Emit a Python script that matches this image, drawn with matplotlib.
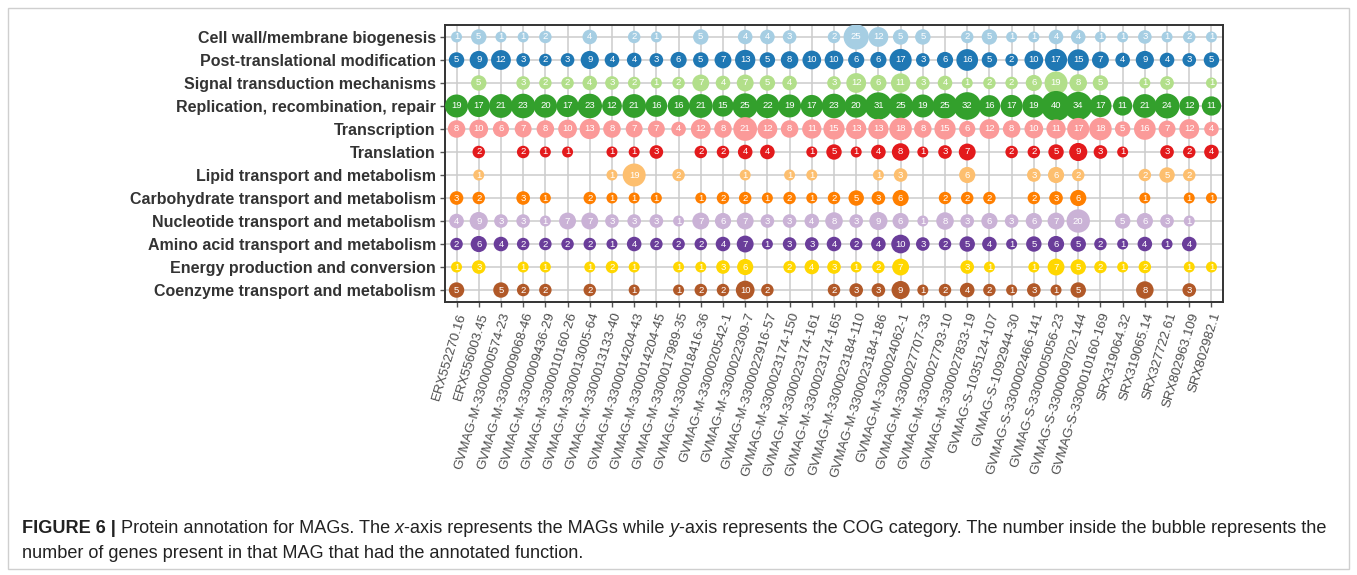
import numpy as np
import matplotlib
matplotlib.use("Agg")
import matplotlib.pyplot as plt
from matplotlib.transforms import IdentityTransform
from matplotlib.patches import Rectangle

plt.rcParams['font.family'] = ['Liberation Sans', 'DejaVu Sans']

mags = ["ERX552270.16", "ERX556003.45", "GVMAG-M-3300000574-23", "GVMAG-M-3300009068-46",
        "GVMAG-M-3300009436-29", "GVMAG-M-3300010160-26", "GVMAG-M-3300013005-64",
        "GVMAG-M-3300013133-40", "GVMAG-M-3300014204-43", "GVMAG-M-3300014204-45",
        "GVMAG-M-3300017989-35", "GVMAG-M-3300018416-36", "GVMAG-M-3300020542-1",
        "GVMAG-M-3300022309-7", "GVMAG-M-3300022916-57", "GVMAG-M-3300023174-150",
        "GVMAG-M-3300023174-161", "GVMAG-M-3300023174-165", "GVMAG-M-3300023184-110",
        "GVMAG-M-3300023184-186", "GVMAG-M-3300024062-1", "GVMAG-M-3300027707-33",
        "GVMAG-M-3300027793-10", "GVMAG-M-3300027833-19", "GVMAG-S-1035124-107",
        "GVMAG-S-1092944-30", "GVMAG-S-3300002466-141", "GVMAG-S-3300005056-23",
        "GVMAG-S-3300009702-144", "GVMAG-S-3300010160-169", "SRX319064.32",
        "SRX319065.14", "SRX327722.61", "SRX802963.109", "SRX802982.1"]

categories = ["Cell wall/membrane biogenesis", "Post-translational modification",
              "Signal transduction mechanisms", "Replication, recombination, repair",
              "Transcription", "Translation", "Lipid transport and metabolism",
              "Carbohydrate transport and metabolism", "Nucleotide transport and metabolism",
              "Amino acid transport and metabolism", "Energy production and conversion",
              "Coenzyme transport and metabolism"]

# gene counts per MAG (0 = no bubble)
cell_wall    = [1, 5, 1, 1, 2, 0, 4, 0, 2, 1, 0, 5, 0, 4, 4, 3, 0, 2, 25, 12, 5, 5, 0, 2, 5, 1, 1, 4, 4, 1, 1, 3, 1, 2, 1]
post_trans   = [5, 9, 12, 3, 2, 3, 9, 4, 4, 3, 6, 5, 7, 13, 5, 8, 10, 10, 6, 6, 17, 3, 6, 16, 5, 2, 10, 17, 15, 7, 4, 9, 4, 3, 5]
signal       = [0, 5, 0, 3, 2, 2, 4, 3, 2, 1, 2, 7, 4, 7, 5, 4, 0, 3, 12, 6, 11, 3, 4, 1, 2, 2, 6, 19, 8, 5, 0, 1, 3, 0, 1]
replication  = [19, 17, 21, 23, 20, 17, 23, 12, 21, 16, 16, 21, 15, 25, 22, 19, 17, 23, 20, 31, 25, 19, 25, 32, 16, 17, 19, 40, 34, 17, 11, 21, 24, 12, 11]
transcript   = [8, 10, 6, 7, 8, 10, 13, 8, 7, 7, 4, 12, 8, 21, 12, 8, 11, 15, 13, 13, 18, 8, 15, 6, 12, 8, 10, 11, 17, 18, 5, 16, 7, 12, 4]
translation  = [0, 2, 0, 2, 1, 1, 0, 1, 1, 3, 0, 2, 2, 4, 4, 0, 1, 5, 1, 4, 8, 1, 3, 7, 0, 2, 2, 5, 9, 3, 1, 0, 3, 2, 4]
lipid        = [0, 1, 0, 0, 0, 0, 0, 1, 19, 0, 2, 0, 0, 1, 0, 1, 1, 0, 0, 1, 3, 0, 0, 6, 0, 0, 3, 6, 2, 0, 0, 2, 5, 2, 0]
carbohydrate = [3, 2, 0, 3, 1, 0, 2, 1, 1, 1, 0, 1, 2, 2, 1, 2, 1, 2, 5, 3, 6, 0, 2, 2, 2, 0, 2, 3, 6, 0, 0, 1, 0, 1, 1]
nucleotide   = [4, 9, 3, 3, 1, 7, 7, 3, 3, 3, 1, 7, 6, 7, 3, 3, 4, 8, 3, 9, 6, 1, 8, 3, 6, 3, 6, 7, 20, 0, 5, 6, 3, 1, 0]
amino_acid   = [2, 6, 4, 2, 2, 2, 2, 1, 4, 2, 2, 2, 4, 7, 1, 3, 3, 4, 2, 4, 10, 3, 2, 5, 4, 1, 5, 6, 5, 2, 1, 4, 1, 4, 0]
energy       = [1, 3, 0, 1, 1, 0, 1, 2, 1, 0, 1, 1, 3, 6, 0, 2, 4, 3, 1, 2, 7, 0, 0, 3, 1, 0, 1, 7, 5, 2, 1, 2, 0, 1, 1]
coenzyme     = [5, 0, 5, 2, 2, 0, 2, 0, 1, 0, 1, 2, 2, 10, 2, 0, 0, 2, 3, 3, 9, 1, 2, 4, 2, 1, 3, 1, 5, 0, 0, 8, 0, 3, 0]

rows = [cell_wall, post_trans, signal, replication, transcript, translation,
        lipid, carbohydrate, nucleotide, amino_acid, energy, coenzyme]

colors = ["#a6cee3", "#1f78b4", "#b2df8a", "#33a02c", "#fb9a99", "#e31a1c",
          "#fdbf6f", "#ff7f00", "#cab2d6", "#6a3d9a", "#ffd700", "#b15928"]

W, H, DPI = 1357, 575, 100
fig = plt.figure(figsize=(W / DPI, H / DPI), dpi=DPI)
ax = fig.add_axes([445 / W, 1 - 302 / H, (1223 - 445) / W, (302 - 25) / H])

vmax = max(max(r) for r in rows)
px = 72 / DPI  # points per pixel


def diam(v):
    # diameter in pixels, linear in sqrt(count) like an area scale
    v = np.asarray(v, dtype=float)
    return 11 + 19 * (np.sqrt(v) - 1) / (np.sqrt(vmax) - 1)


for j, (vals, col) in enumerate(zip(rows, colors)):
    vals = np.array(vals)
    xs = np.nonzero(vals)[0]
    ys = np.full(len(xs), j)
    ax.scatter(xs, ys, s=(diam(vals[xs]) * px) ** 2, color=col, edgecolors='none',
               zorder=3)
    for x, v in zip(xs, vals[xs]):
        ax.text(x, j, str(v), ha='center', va='center', color='white',
                fontsize=6.8, zorder=4)

ax.set_xlim(-0.52, len(mags) - 0.48)
ax.set_ylim(len(categories) - 0.48, -0.52)
ax.set_xticks(range(len(mags)))
ax.set_xticklabels(mags, rotation=73, ha='right', rotation_mode='anchor',
                   fontsize=9.6, color='#4d4d4d')
ax.set_yticks(range(len(categories)))
ax.set_yticklabels(categories, fontsize=11.5, fontweight='bold', color='#333333')
ax.tick_params(axis='both', length=3.5, width=1, color='#555555', pad=3)
ax.grid(True, color='#cccccc', linewidth=1.1, zorder=0)
ax.set_axisbelow(True)
for sp in ax.spines.values():
    sp.set_color('#333333')
    sp.set_linewidth(1.4)

# caption with mixed bold / italic runs
fig.canvas.draw()
renderer = fig.canvas.get_renderer()


def put_line(x, y, runs, size=13.05):
    for s, kw in runs:
        t = fig.text(x, y, s, fontsize=size, color='#222222', va='baseline',
                     transform=IdentityTransform(), **kw)
        x += t.get_window_extent(renderer).width


line1 = [("FIGURE 6 |", dict(fontweight='bold')),
         (" Protein annotation for MAGs. The ", {}),
         ("x", dict(style='italic')),
         ("-axis represents the MAGs while ", {}),
         ("y", dict(style='italic')),
         ("-axis represents the COG category. The number inside the bubble represents the", {})]
line2 = [("number of genes present in that MAG that had the annotated function.", {})]
put_line(22, H - 533, line1)
put_line(22, H - 558, line2)

fig.patches.append(Rectangle((8 / W, 6 / H), (W - 16) / W, (H - 14) / H,
                             transform=fig.transFigure, fill=False,
                             edgecolor='#cfcfcf', linewidth=1))

fig.savefig("out.png", dpi=DPI)
